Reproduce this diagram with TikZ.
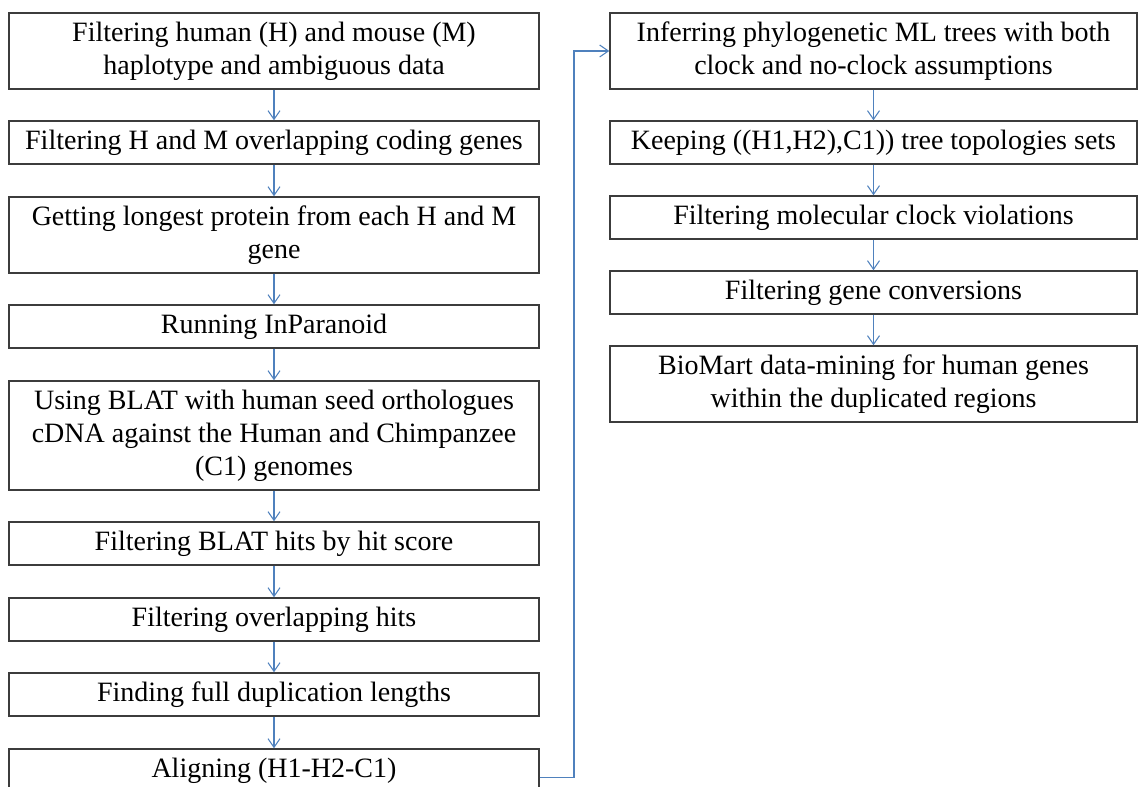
\documentclass[tikz,border=0pt]{standalone}
\usepackage{fontspec}
\setmainfont{Liberation Serif}
\usetikzlibrary{arrows.meta}
\definecolor{connblue}{RGB}{79,129,189}
\definecolor{boxline}{RGB}{60,60,60}
\tikzset{
  stepbox/.style={draw=boxline, line width=1.1pt, fill=white, inner sep=0pt,
    align=center, font=\fontsize{21}{24.75}\selectfont},
  lbox/.style={stepbox, minimum width={530*0.75pt}},
  rbox/.style={stepbox, minimum width={527*0.75pt}},
  h1/.style={minimum height={43*0.75pt}},
  h2/.style={minimum height={76*0.75pt}},
  h3/.style={minimum height={109*0.75pt}},
  conn/.style={draw=connblue, line width=0.8pt,
    -{Straight Barb[length=6.5pt, width=9pt, line width=0.8pt]}}
}
\begin{document}
\begin{tikzpicture}[x=0.75pt, y=-0.75pt]
\useasboundingbox (0,0) rectangle (1139,787);
\clip (0,0) rectangle (1139,787);
% left column
\node[lbox,h2] (l1) at (274,51)    {Filtering human (H) and mouse (M)\\haplotype and ambiguous data};
\node[lbox,h1] (l2) at (274,142.5) {Filtering H and M overlapping coding genes};
\node[lbox,h2] (l3) at (274,235)   {Getting longest protein from each H and M\\gene};
\node[lbox,h1] (l4) at (274,326.5) {Running InParanoid};
\node[lbox,h3] (l5) at (274,435.5) {Using BLAT with human seed orthologues\\cDNA against the Human and Chimpanzee\\(C1) genomes};
\node[lbox,h1] (l6) at (274,543.5) {Filtering BLAT hits by hit score};
\node[lbox,h1] (l7) at (274,619.5) {Filtering overlapping hits};
\node[lbox,h1] (l8) at (274,694.5) {Finding full duplication lengths};
\node[lbox,h1] (l9) at (274,770.5) {Aligning (H1-H2-C1)};
% right column
\node[rbox,h2] (r1) at (873.5,51)    {Inferring phylogenetic ML trees with both\\clock and no-clock assumptions};
\node[rbox,h1] (r2) at (873.5,142.5) {Keeping ((H1,H2),C1)) tree topologies sets};
\node[rbox,h1] (r3) at (873.5,217.5) {Filtering molecular clock violations};
\node[rbox,h1] (r4) at (873.5,292.5) {Filtering gene conversions};
\node[rbox,h2] (r5) at (873.5,384)   {BioMart data-mining for human genes\\within the duplicated regions};
% connectors
\foreach \a/\b in {l1/l2,l2/l3,l3/l4,l4/l5,l5/l6,l6/l7,l7/l8,l8/l9,r1/r2,r2/r3,r3/r4,r4/r5}
  \draw[conn] (\a) -- (\b);
\coordinate (bend) at (574,51);
\draw[conn] ([yshift=-4.9pt]l9.east) -| (bend) -- (r1.west);
\end{tikzpicture}
\end{document}
